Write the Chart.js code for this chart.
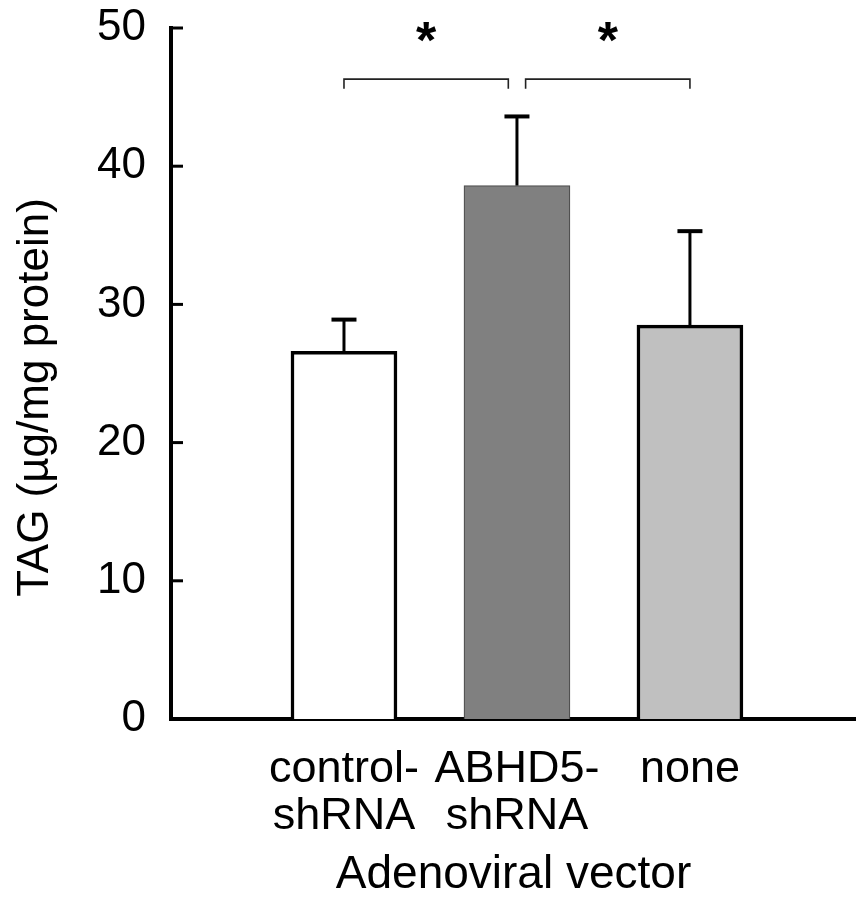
<!DOCTYPE html>
<html><head><meta charset="utf-8">
<script src="https://cdn.jsdelivr.net/npm/chart.js@4.4.1/dist/chart.umd.min.js"></script>
<style>html,body{margin:0;padding:0;background:#fff;}canvas{display:block;}</style>
</head><body>
<canvas id="c" width="856" height="901"></canvas>
<script>
const categories = ['control-shRNA', 'ABHD5-shRNA', 'none'];
const tickLabels = [['control-', 'shRNA'], ['ABHD5-', 'shRNA'], ['none']];
const tagValues = [26.6, 38.6, 28.5];
const tagErrors = [2.3, 5.0, 6.8];
const yTicks = [0, 10, 20, 30, 40, 50];
const comparisons = [[0, 1], [1, 2]];
const significance = ['*', '*'];
const yTitle = 'TAG (µg/mg protein)';
const xTitle = 'Adenoviral vector';

const FONT = 'Liberation Sans, Arial, sans-serif';

const annotations = {
  id: 'annotations',
  afterDatasetsDraw(chart) {
    const {ctx, chartArea} = chart;
    const x = chart.scales.x, y = chart.scales.y;
    ctx.save();
    ctx.strokeStyle = '#000';
    ctx.lineCap = 'butt';
    // inward y ticks
    ctx.lineWidth = 3;
    yTicks.forEach(v => {
      if (v === 0) return;
      const py = y.getPixelForValue(v);
      ctx.beginPath(); ctx.moveTo(chartArea.left, py); ctx.lineTo(chartArea.left + 12, py); ctx.stroke();
    });
    // error bars (upper only)
    tagValues.forEach((v, i) => {
      const px = x.getPixelForValue(i);
      const base = y.getPixelForValue(v);
      const top = y.getPixelForValue(v + tagErrors[i]);
      ctx.lineWidth = 3;
      ctx.beginPath(); ctx.moveTo(px, base); ctx.lineTo(px, top); ctx.stroke();
      ctx.lineWidth = 4;
      ctx.beginPath(); ctx.moveTo(px - 12.5, top); ctx.lineTo(px + 12.5, top); ctx.stroke();
    });
    // significance brackets
    const counts = {};
    comparisons.forEach(([a, b]) => { counts[a] = (counts[a] || 0) + 1; counts[b] = (counts[b] || 0) + 1; });
    const gap = 0.05;
    const lineY = y.getPixelForValue(46.3);
    const tickY = y.getPixelForValue(45.6);
    ctx.strokeStyle = '#222';
    ctx.lineWidth = 1.6;
    comparisons.forEach(([a, b], k) => {
      const x1 = x.getPixelForValue(a + (counts[a] > 1 ? gap : 0));
      const x2 = x.getPixelForValue(b - (counts[b] > 1 ? gap : 0));
      ctx.beginPath();
      ctx.moveTo(x1, tickY); ctx.lineTo(x1, lineY); ctx.lineTo(x2, lineY); ctx.lineTo(x2, tickY);
      ctx.stroke();
      ctx.fillStyle = '#000';
      ctx.font = 'bold 52px ' + FONT;
      ctx.textAlign = 'center';
      ctx.textBaseline = 'alphabetic';
      ctx.fillText(significance[k], (x1 + x2) / 2, 58);
    });
    // y-axis title
    ctx.fillStyle = '#000';
    ctx.font = '44px ' + FONT;
    ctx.textAlign = 'center';
    ctx.textBaseline = 'middle';
    ctx.translate(36, (chartArea.top + chartArea.bottom) / 2 + 24);
    ctx.rotate(-Math.PI / 2);
    ctx.fillText(yTitle, 0, 0);
    ctx.restore();
  }
};

new Chart(document.getElementById('c'), {
  type: 'bar',
  data: {
    datasets: [{
      label: 'TAG',
      data: tagValues.map((v, i) => ({x: i, y: v})),
      backgroundColor: ['#ffffff', '#808080', '#c0c0c0'],
      borderColor: ['#000000', '#505050', '#000000'],
      borderWidth: [3.5, 1.3, 3.5],
      borderSkipped: 'start',
      barThickness: 106
    }]
  },
  options: {
    responsive: false,
    animation: false,
    devicePixelRatio: 1,
    layout: {padding: {top: 28, right: 0, bottom: 0, left: 0}},
    plugins: {legend: {display: false}, tooltip: {enabled: false}},
    scales: {
      x: {
        type: 'linear',
        min: -1,
        max: 2.96,
        offset: false,
        grid: {display: false, drawTicks: false},
        border: {display: true, color: '#000', width: 4},
        afterBuildTicks: s => { s.ticks = categories.map((c, i) => ({value: i})); },
        afterFit: s => { s.height = 182; s.paddingLeft = 0; s.paddingRight = 0; },
        ticks: {
          autoSkip: false,
          maxRotation: 0,
          padding: 27,
          color: '#000',
          font: {family: FONT, size: 45, lineHeight: 1.045},
          callback: v => tickLabels[v]
        },
        title: {
          display: true,
          text: xTitle,
          color: '#000',
          font: {family: FONT, size: 46, lineHeight: 1.1},
          padding: {top: 0, bottom: 0}
        }
      },
      y: {
        min: 0,
        max: 50,
        afterBuildTicks: s => { s.ticks = yTicks.map(v => ({value: v})); },
        afterFit: s => { s.width = 171; s.paddingTop = 0; s.paddingBottom = 0; },
        grid: {display: false, drawTicks: false},
        border: {display: true, color: '#000', width: 4},
        ticks: {
          padding: 25,
          color: '#000',
          font: {family: FONT, size: 44}
        }
      }
    }
  },
  plugins: [annotations]
});
</script>
</body></html>
